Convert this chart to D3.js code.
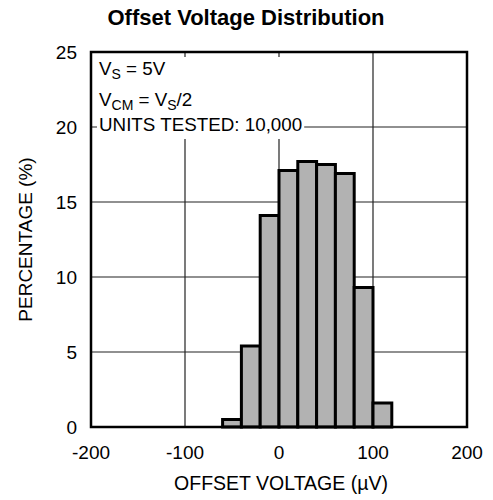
<!DOCTYPE html>
<html><head><meta charset="utf-8">
<script src="https://cdn.jsdelivr.net/npm/d3@7"></script>
<style>body{margin:0;background:#fff}text{font-family:"Liberation Sans",Arial,sans-serif;fill:#000}</style>
</head><body>
<svg id="c" width="493" height="500"></svg>
<script>
const binStarts = [-60, -40, -20, 0, 20, 40, 60, 80, 100];
const binWidth = 20;
const percentages = [0.5, 5.4, 14.1, 17.1, 17.7, 17.5, 16.9, 9.3, 1.6];
const xTicks = [-200, -100, 0, 100, 200];
const yTicks = [0, 5, 10, 15, 20, 25];

const svg = d3.select("#c");
const m = {l: 91, r: 467, t: 52, b: 427};
const x = d3.scaleLinear().domain([-200, 200]).range([m.l, m.r]);
const y = d3.scaleLinear().domain([0, 25]).range([m.b, m.t]);

svg.append("text").attr("x", 246).attr("y", 25).attr("text-anchor", "middle")
  .style("font-size", "22px").style("font-weight", "bold").text("Offset Voltage Distribution");

// grid
const g = svg.append("g");
g.selectAll("line.v").data(xTicks.slice(1, -1)).join("line")
  .attr("x1", d => x(d)).attr("x2", d => x(d)).attr("y1", m.t).attr("y2", m.b)
  .attr("stroke", "#222").attr("stroke-width", 1.2);
g.selectAll("line.h").data(yTicks.slice(1, -1)).join("line")
  .attr("y1", d => y(d)).attr("y2", d => y(d)).attr("x1", m.l).attr("x2", m.r)
  .attr("stroke", "#222").attr("stroke-width", 1.2);

// bars
svg.append("g").selectAll("rect").data(binStarts).join("rect")
  .attr("x", d => x(d)).attr("width", d => x(d + binWidth) - x(d))
  .attr("y", (d, i) => y(percentages[i])).attr("height", (d, i) => y(0) - y(percentages[i]))
  .attr("fill", "#b2b2b2").attr("stroke", "#000").attr("stroke-width", 3);

// annotation box
const bg = svg.append("rect").attr("fill", "#fff");
const ann = svg.append("g").style("font-size", "18.8px");
const t1 = ann.append("text").attr("x", 99).attr("y", 75);
t1.append("tspan").text("V");
t1.append("tspan").attr("dy", 4).style("font-size", "14px").text("S");
t1.append("tspan").attr("dy", -4).text(" = 5V");
const t2 = ann.append("text").attr("x", 99).attr("y", 106);
t2.append("tspan").text("V");
t2.append("tspan").attr("dy", 4).style("font-size", "14px").text("CM");
t2.append("tspan").attr("dy", -4).text(" = V");
t2.append("tspan").attr("dy", 4).style("font-size", "14px").text("S");
t2.append("tspan").attr("dy", -4).text("/2");
ann.append("text").attr("x", 99).attr("y", 131).text("UNITS TESTED: 10,000");
const bb = ann.node().getBBox();
bg.attr("x", bb.x - 2).attr("y", m.t + 5).attr("width", bb.width + 4).attr("height", bb.y + bb.height + 4 - (m.t + 5));

// frame
svg.append("rect").attr("x", m.l).attr("y", m.t).attr("width", m.r - m.l).attr("height", m.b - m.t)
  .attr("fill", "none").attr("stroke", "#000").attr("stroke-width", 2.5);

// tick labels
svg.append("g").selectAll("text").data(xTicks).join("text")
  .attr("x", d => x(d)).attr("y", 459).attr("text-anchor", "middle").style("font-size", "19px").text(d => d);
svg.append("g").selectAll("text").data(yTicks).join("text")
  .attr("x", 77).attr("y", d => y(d) + 6.5).attr("text-anchor", "end").style("font-size", "19px").text(d => d);

svg.append("text").attr("x", 281).attr("y", 490).attr("text-anchor", "middle").style("font-size", "19.5px")
  .text("OFFSET VOLTAGE (\u00B5V)");
svg.append("text").attr("transform", "translate(32," + ((m.t + m.b) / 2) + ") rotate(-90)")
  .attr("text-anchor", "middle").style("font-size", "19px").text("PERCENTAGE (%)");
</script>
</body></html>
